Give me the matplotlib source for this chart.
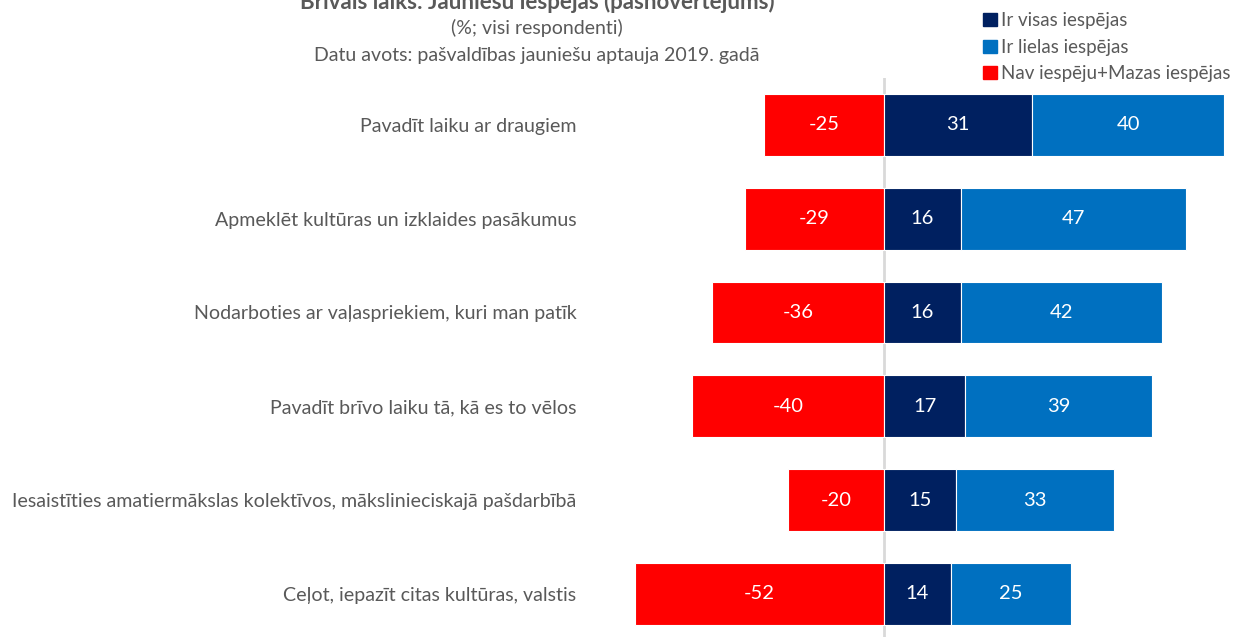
import matplotlib
matplotlib.use('Agg')
import matplotlib.pyplot as plt
from matplotlib.patches import Patch

plt.rcParams['font.family'] = ['Lato', 'DejaVu Sans']

# data
categories = ['Pavadīt laiku ar draugiem',
              'Apmeklēt kultūras un izklaides pasākumus',
              'Nodarboties ar vaļaspriekiem, kuri man patīk',
              'Pavadīt brīvo laiku tā, kā es to vēlos',
              'Iesaistīties amatiermākslas kolektīvos, mākslinieciskajā pašdarbībā',
              'Ceļot, iepazīt citas kultūras, valstis']
nav_iespeju = [-25, -29, -36, -40, -20, -52]
visas = [31, 16, 16, 17, 15, 14]
lielas = [40, 47, 42, 39, 33, 25]

c_red = '#FF0000'
c_navy = '#002060'
c_blue = '#0070C0'
c_text = '#595959'

W, H = 1235, 637
fig = plt.figure(figsize=(W / 100, H / 100), dpi=100)
# axes in pixel coordinates
L, R, T, B = 600, 1235, 78, 637
ax = fig.add_axes([L / W, 1 - B / H, (R - L) / W, (B - T) / H])

y = list(range(len(categories)))
h = 0.66
ax.barh(y, nav_iespeju, height=h, color=c_red, edgecolor='white', linewidth=0.8)
ax.barh(y, visas, height=h, color=c_navy, edgecolor='white', linewidth=0.8)
ax.barh(y, lielas, left=visas, height=h, color=c_blue, edgecolor='white', linewidth=0.8)

for i in y:
    ax.text(nav_iespeju[i] / 2, i, str(nav_iespeju[i]), ha='center', va='center',
            color='white', fontsize=14.5)
    ax.text(visas[i] / 2, i, str(visas[i]), ha='center', va='center',
            color='white', fontsize=14.5)
    ax.text(visas[i] + lielas[i] / 2, i, str(lielas[i]), ha='center', va='center',
            color='white', fontsize=14.5)

ax.axvline(0, color='#D9D9D9', linewidth=2, zorder=0)

ax.set_xlim(-59.3, 73.3)
ax.set_ylim(5.46, -0.5)
ax.set_yticks(y)
ax.set_yticklabels(categories, fontsize=14.1, color=c_text)
ax.tick_params(axis='y', length=0, pad=17)
ax.set_xticks([])
for s in ax.spines.values():
    s.set_visible(False)

# titles (main title is cut at the top edge, as in the original)
fig.text(537 / W, 1 - 2 / H, 'Brīvais laiks: Jauniešu iespējas (pašnovērtējums)',
         ha='center', va='center', fontsize=16, fontweight='bold', color=c_text)
fig.text(537 / W, 1 - 28 / H, '(%; visi respondenti)', ha='center', va='center',
         fontsize=14, color=c_text)
fig.text(537 / W, 1 - 55 / H, 'Datu avots: pašvaldības jauniešu aptauja 2019. gadā',
         ha='center', va='center', fontsize=14, color=c_text)

handles = [Patch(color=c_navy, label='Ir visas iespējas'),
           Patch(color=c_blue, label='Ir lielas iespējas'),
           Patch(color=c_red, label='Nav iespēju+Mazas iespējas')]
fig.legend(handles=handles, loc='upper left', bbox_to_anchor=(974 / W, 1 - 3 / H),
           frameon=False, fontsize=13.5, labelcolor=c_text, handlelength=0.7,
           handleheight=0.7, handletextpad=0.25, labelspacing=0.5, borderpad=0)

fig.savefig('out.png', dpi=100)
